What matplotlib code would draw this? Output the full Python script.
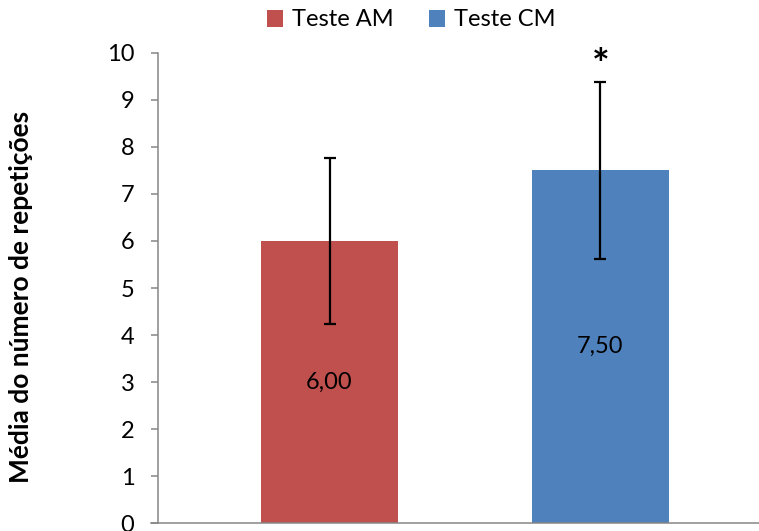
import matplotlib
matplotlib.use("Agg")
import matplotlib.pyplot as plt

# ── data ─────────────────────────────────────────────
series = ["Teste AM", "Teste CM"]
means = [6.00, 7.50]
errors = [1.76, 1.88]
value_labels = ["6,00", "7,50"]
colors = ["#C0504D", "#4F81BD"]
yticks = list(range(0, 11))

plt.rcParams["font.family"] = ["Lato", "DejaVu Sans"]

fig = plt.figure(figsize=(7.59, 5.31), dpi=100)
ax = fig.add_axes([0.2082, 0.0145, 0.7918, 0.8862])

x = [0, 1]
bars = ax.bar(x, means, width=0.505, color=colors, label=series, zorder=2)
ax.errorbar(x, means, yerr=errors, fmt="none", ecolor="black",
            elinewidth=1.6, capsize=4.3, capthick=1.6, zorder=3)

# centered value labels
for xi, m, lab in zip(x, means, value_labels):
    ax.text(xi, m / 2, lab, ha="center", va="center", fontsize=17)

# significance mark
ax.annotate("*", (x[1], means[1] + errors[1]), xytext=(0, 2),
            textcoords="offset points", ha="center", va="baseline",
            fontsize=30, fontweight="bold")

ax.set_ylim(0, 10)
ax.set_xlim(-0.633, 1.585)
ax.set_yticks(yticks)
ax.set_xticks([])
ax.tick_params(axis="y", length=5, width=1.1, color="#868686",
               labelsize=17, pad=12)

for s in ["top", "right"]:
    ax.spines[s].set_visible(False)
for s in ["left", "bottom"]:
    ax.spines[s].set_color("#868686")
    ax.spines[s].set_linewidth(1.1)
ax.spines["bottom"].set_bounds(-0.633 - 7 / 271, 1.585)

ax.set_ylabel("Média do número de repetições", fontsize=19,
              fontweight="bold")
ax.yaxis.set_label_coords(-0.208, 0.482)

fig.legend(handles=bars, labels=series, loc="center",
           bbox_to_anchor=(411 / 759, 1 - 20 / 531), ncol=2, frameon=False,
           fontsize=17, handlelength=0.7, handleheight=0.7,
           handletextpad=0.35, columnspacing=1.5, borderpad=0)

fig.savefig("out.png", dpi=100)
